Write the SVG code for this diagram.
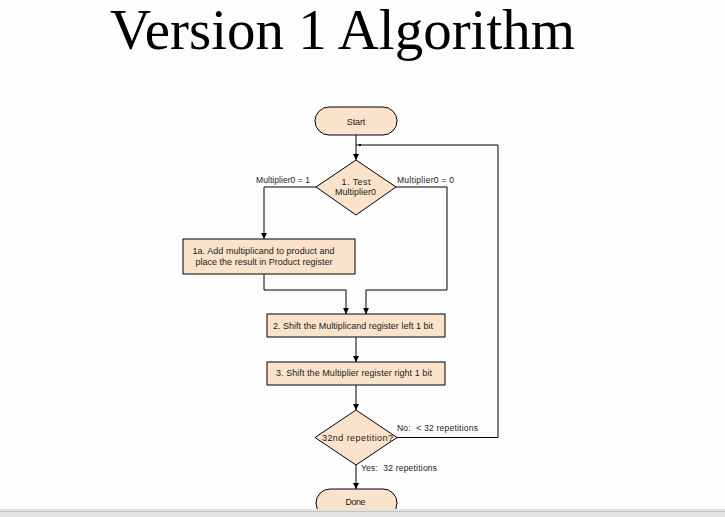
<svg xmlns="http://www.w3.org/2000/svg" width="725" height="517" viewBox="0 0 725 517">
<defs>
<style>
.node{fill:#FBE3CB;stroke:#000;stroke-width:1}
.t{font-family:"Liberation Sans",Arial,sans-serif;font-size:9px;fill:#1a1a1a;text-anchor:middle}
.lbl{font-family:"Liberation Sans",Arial,sans-serif;font-size:8.5px;fill:#1a1a1a}
.c{fill:none;stroke:#000;stroke-width:1}
</style>
<marker id="ah" markerWidth="6" markerHeight="6" refX="6" refY="3" orient="auto" markerUnits="userSpaceOnUse">
<path d="M0,0 L6,3 L0,6 z" fill="#000"/>
</marker>
</defs>
<rect x="0" y="0" width="725" height="517" fill="#fdfdfd"/>
<text x="110" y="49" font-family="'Liberation Serif','Times New Roman',serif" font-size="58" textLength="465" lengthAdjust="spacingAndGlyphs" fill="#000">Version 1 Algorithm</text>

<g id="connectors">
<path class="c" d="M356,135 V160" marker-end="url(#ah)"/>
<path class="c" d="M397,437.5 H498 V145 H356"/>
<rect x="359" y="144" width="2" height="2" fill="#000"/>
<path class="c" d="M316,187 H264 V239" marker-end="url(#ah)"/>
<path class="c" d="M396,187 H447 V290 H366 V314" marker-end="url(#ah)"/>
<path class="c" d="M264,274 V290 H346 V314" marker-end="url(#ah)"/>
<path class="c" d="M356,337 V362" marker-end="url(#ah)"/>
<path class="c" d="M356,385 V410" marker-end="url(#ah)"/>
<path class="c" d="M356,465 V489" marker-end="url(#ah)"/>
<text class="lbl" x="256" y="183" textLength="54" lengthAdjust="spacing">Multiplier0 = 1</text>
<text class="lbl" x="397" y="183" textLength="57" lengthAdjust="spacing">Multiplier0 = 0</text>
<text class="lbl" x="397" y="431" xml:space="preserve" textLength="81" lengthAdjust="spacing">No:  &lt; 32 repetitions</text>
<text class="lbl" x="361" y="471" xml:space="preserve" textLength="76" lengthAdjust="spacing">Yes:  32 repetitions</text>
</g>

<g id="start">
<rect class="node" x="315" y="107" width="82" height="28" rx="14"/>
<text class="t" x="356" y="124.5" textLength="18.5" lengthAdjust="spacing">Start</text>
</g>

<g id="test">
<polygon class="node" points="356,160 396,187 356,215 316,187"/>
<text class="t" x="356" y="185" textLength="29" lengthAdjust="spacing">1. Test</text>
<text class="t" x="355.5" y="195" textLength="41" lengthAdjust="spacing">Multiplier0</text>
</g>

<g id="add">
<rect class="node" x="183" y="239" width="172" height="35"/>
<text class="t" x="263.5" y="254" textLength="142" lengthAdjust="spacing">1a. Add multiplicand to product and</text>
<text class="t" x="264" y="264.5" textLength="137" lengthAdjust="spacing">place the result in Product register</text>
</g>

<g id="shiftleft">
<rect class="node" x="267" y="314" width="178" height="23"/>
<text class="t" x="353" y="329" textLength="160" lengthAdjust="spacing">2. Shift the Multiplicand register left 1 bit</text>
</g>

<g id="shiftright">
<rect class="node" x="267" y="362" width="178" height="23"/>
<text class="t" x="354" y="376" textLength="156" lengthAdjust="spacing">3. Shift the Multiplier register right 1 bit</text>
</g>

<g id="repeat">
<polygon class="node" points="356,410 397,437.5 356,465 315,437.5"/>
<text class="t" x="357.5" y="440.5" textLength="71" lengthAdjust="spacing">32nd repetition?</text>
</g>

<g id="done">
<rect class="node" x="316" y="489" width="81" height="28" rx="14"/>
<text class="t" x="355.5" y="505" textLength="20" lengthAdjust="spacing">Done</text>
</g>

<rect x="0" y="509" width="725" height="8" fill="#e3e3e3"/>
<rect x="0" y="511" width="725" height="1" fill="#c4c4c4"/>
</svg>
